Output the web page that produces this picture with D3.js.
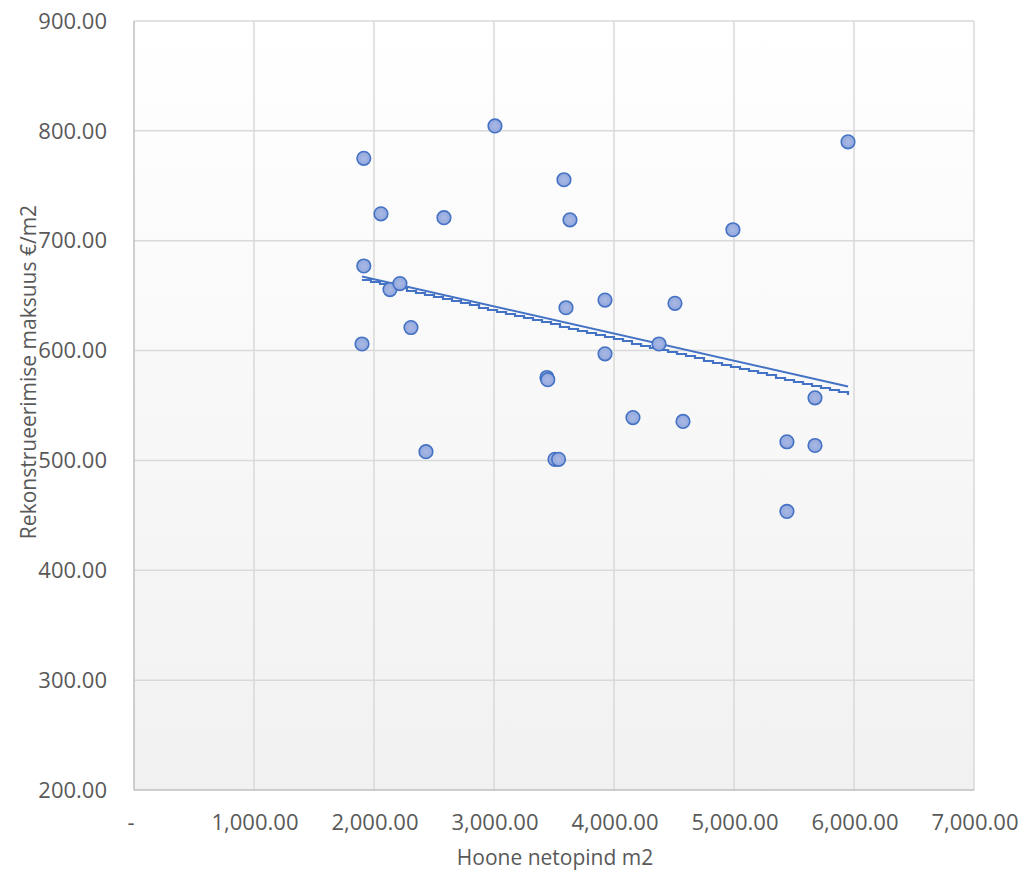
<!DOCTYPE html>
<html>
<head>
<meta charset="utf-8">
<script src="https://cdn.jsdelivr.net/npm/d3@7"></script>
<style>
  html, body { margin: 0; padding: 0; background: #ffffff; }
  svg { display: block; }
</style>
</head>
<body>
<svg id="chart" width="1022" height="871"></svg>
<script>
// ---- data ----
const areaM2 = [1915, 1915, 1900, 2058, 2133, 2216, 2308, 2433, 2583, 3008,
                3583, 3633, 3600, 3441, 3448, 3508, 3538, 3925, 3925, 4158,
                4375, 4508, 4575, 4991, 5441, 5441, 5675, 5675, 5950];
const costPerM2 = [775, 677, 606, 724.5, 655.5, 661, 621, 508, 721, 804.5,
                   755.5, 719, 639, 575.5, 573.5, 501, 501, 646, 597, 539,
                   606, 643, 535.5, 710, 517, 453.6, 557, 513.6, 790];
const trendSolidX = [1900, 5950];
const trendSolidY = [667.5, 567.3];
const trendStepX = [1900, 5950];
const trendStepY = [664.3, 560];
const xTicks = [0, 1000, 2000, 3000, 4000, 5000, 6000, 7000];
const yTicks = [200, 300, 400, 500, 600, 700, 800, 900];
const xTitle = "Hoone netopind m2";
const yTitle = "Rekonstrueerimise maksuus €/m2";

// ---- layout ----
const svg = d3.select("#chart");
const L = 134, R = 974, T = 21, B = 790;
const x = d3.scaleLinear().domain([0, 7000]).range([L, R]);
const y = d3.scaleLinear().domain([200, 900]).range([B, T]);
const FONT = "'Open Sans', sans-serif";
const TXT = "#595959";

const defs = svg.append("defs");
const bg = defs.append("linearGradient").attr("id", "bg").attr("x1", 0).attr("y1", 0).attr("x2", 0).attr("y2", 1);
bg.append("stop").attr("offset", "0%").attr("stop-color", "#ffffff");
bg.append("stop").attr("offset", "100%").attr("stop-color", "#f1f1f1");
const mk = defs.append("radialGradient").attr("id", "mk").attr("cx", "50%").attr("cy", "50%").attr("r", "60%");
mk.append("stop").attr("offset", "0%").attr("stop-color", "#a9b9e4");
mk.append("stop").attr("offset", "100%").attr("stop-color", "#8ea4dc");

svg.append("rect").attr("x", L).attr("y", T).attr("width", R - L).attr("height", B - T).attr("fill", "url(#bg)");

// gridlines
svg.append("g").selectAll("line").data(yTicks.filter(d => d !== 200)).join("line")
  .attr("x1", L).attr("x2", R).attr("y1", d => y(d)).attr("y2", d => y(d))
  .attr("stroke", "#d9d9d9").attr("stroke-width", 1.5);
svg.append("g").selectAll("line").data(xTicks.filter(d => d !== 0)).join("line")
  .attr("y1", T).attr("y2", B).attr("x1", d => x(d)).attr("x2", d => x(d))
  .attr("stroke", "#d9d9d9").attr("stroke-width", 1.5);
// axis lines
svg.append("line").attr("x1", L).attr("x2", L).attr("y1", T).attr("y2", B).attr("stroke", "#bfbfbf").attr("stroke-width", 1.5);
svg.append("line").attr("x1", L).attr("x2", R).attr("y1", B).attr("y2", B).attr("stroke", "#bfbfbf").attr("stroke-width", 1.5);

// tick labels
const fmt = d3.format(",.2f");
svg.append("g").selectAll("text").data(yTicks).join("text")
  .attr("x", 107).attr("y", d => y(d)).attr("dy", "0.35em")
  .attr("text-anchor", "end").attr("font-family", FONT).attr("font-size", 22).attr("fill", TXT)
  .text(d => fmt(d));
svg.append("g").selectAll("text").data(xTicks).join("text")
  .attr("x", d => d === 0 ? x(d) - 3 : x(d) + 1).attr("y", 830)
  .attr("text-anchor", "middle").attr("font-family", FONT).attr("font-size", 22).attr("fill", TXT)
  .text(d => d === 0 ? "-" : fmt(d));

// axis titles
svg.append("text").attr("x", 555).attr("y", 865).attr("text-anchor", "middle")
  .attr("font-family", FONT).attr("font-size", 21).attr("fill", TXT).text(xTitle);
svg.append("text").attr("transform", "translate(36,372) rotate(-90)").attr("text-anchor", "middle")
  .attr("font-family", FONT).attr("font-size", 21).attr("fill", TXT).text(yTitle);

// trend lines
const solid = trendSolidX.map((d, i) => [d, trendSolidY[i]]);
svg.append("path").datum(solid)
  .attr("d", d3.line().x(d => x(d[0])).y(d => y(d[1])))
  .attr("fill", "none").attr("stroke", "#4472c4").attr("stroke-width", 2);

// stepped trend: drawn along its own line with pixel-rounded steps
const sx0 = x(trendStepX[0]), sx1 = x(trendStepX[1]);
const sy0 = y(trendStepY[0]), sy1 = y(trendStepY[1]);
const stepPts = [];
const nSteps = Math.round((sx1 - sx0) / 9);
for (let i = 0; i <= nSteps; i++) {
  const px = sx0 + (sx1 - sx0) * i / nSteps;
  const py = sy0 + (sy1 - sy0) * i / nSteps;
  stepPts.push([px, Math.round(py)]);
}
svg.append("path").datum(stepPts)
  .attr("d", d3.line().curve(d3.curveStepAfter))
  .attr("fill", "none").attr("stroke", "#4472c4").attr("stroke-width", 2.2);

// markers
const pts = areaM2.map((d, i) => [d, costPerM2[i]]);
svg.append("g").selectAll("circle").data(pts).join("circle")
  .attr("cx", d => x(d[0])).attr("cy", d => y(d[1])).attr("r", 6.8)
  .attr("fill", "url(#mk)").attr("stroke", "#4472c4").attr("stroke-width", 1.6);
</script>
</body>
</html>
